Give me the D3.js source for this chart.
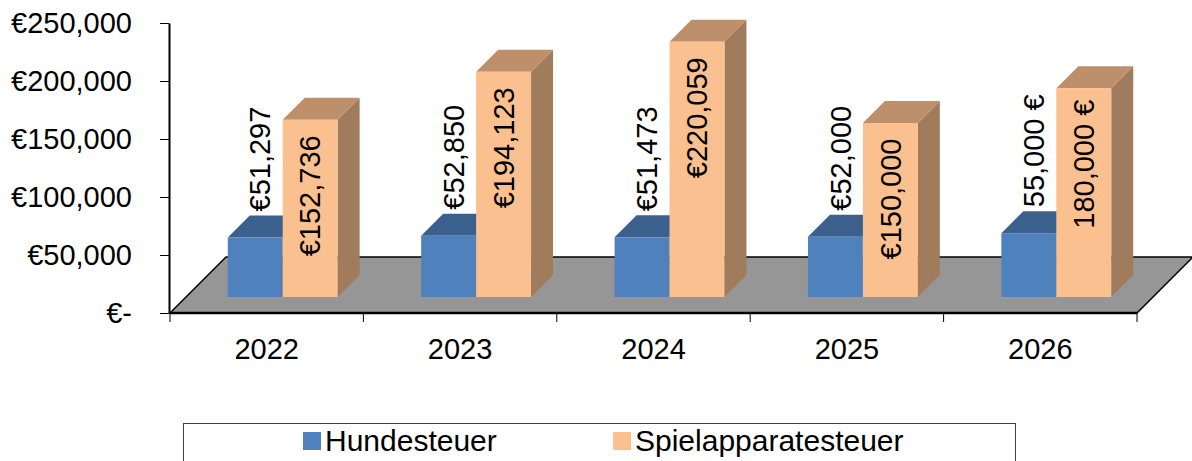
<!DOCTYPE html>
<html>
<head>
<meta charset="utf-8">
<script src="https://cdn.jsdelivr.net/npm/d3@7"></script>
<style>
  body { margin: 0; background: #fff; }
  text { font-family: "Liberation Sans", Arial, sans-serif; }
</style>
</head>
<body>
<div id="container"></div>
<script>
let years = ["2022", "2023", "2024", "2025", "2026"];
let series = ["Hundesteuer", "Spielapparatesteuer"];
let hundesteuer = [51297, 52850, 51473, 52000, 55000];
let spielapparatesteuer = [152736, 194123, 220059, 150000, 180000];
// 2026 is labelled with the euro sign after the number
let euroAfter = [false, false, false, false, true];
let yTicks = [0, 50000, 100000, 150000, 200000, 250000];

let width = 1192, height = 461;
let plot = {left: 170, right: 1137, top: 23, bottom: 313};
let floorDepth = 56, barOffset = 16, barDepth = 22;

let colors = {
    Hundesteuer: {front: "#4f81bd", top: "#3c608d", side: "#34557d"},
    Spielapparatesteuer: {front: "#fac090", top: "#be8f6b", side: "#a07b5c"}
};

let svg = d3.select("#container").append("svg")
    .attr("width", width)
    .attr("height", height);

let x = d3.scaleBand()
    .domain(years)
    .range([plot.left, plot.right]);

let x1 = d3.scaleBand()
    .domain(series)
    .range([0, x.bandwidth()])
    .paddingOuter(0.76);

let y = d3.scaleLinear()
    .domain([0, 250000])
    .range([plot.bottom, plot.top]);

let fmt = d3.format(",");
function euro(v, i) {
    return euroAfter[i] ? fmt(v) + " €" : "€" + fmt(v);
}

// floor
let floorPts = [
    [plot.left, plot.bottom],
    [plot.right, plot.bottom],
    [plot.right + floorDepth, plot.bottom - floorDepth],
    [plot.left + floorDepth, plot.bottom - floorDepth]
];
svg.append("polygon")
    .attr("points", floorPts.map(p => p.join(",")).join(" "))
    .style("fill", "#969696")
    .style("stroke", "#000")
    .style("stroke-width", 1.5);

svg.append("line")
    .attr("x1", plot.left).attr("x2", plot.right)
    .attr("y1", plot.bottom).attr("y2", plot.bottom)
    .style("stroke", "#000")
    .style("stroke-width", 2.5);

// x boundary ticks
svg.append("g").selectAll("line")
    .data(years.map(d => x(d)).concat([plot.right]))
    .enter().append("line")
    .attr("x1", d => d).attr("x2", d => d)
    .attr("y1", plot.bottom).attr("y2", plot.bottom + 9)
    .style("stroke", "#000")
    .style("stroke-width", 1);

// y axis
let yAxis = svg.append("g")
    .attr("transform", "translate(" + (plot.left - 1) + ",0)")
    .call(d3.axisLeft(y)
        .tickValues(yTicks)
        .tickSize(9)
        .tickSizeOuter(0)
        .tickPadding(28)
        .tickFormat(d => d === 0 ? "€-" : "€" + fmt(d)));
yAxis.select(".domain").style("stroke", "#000").style("stroke-width", 2);
yAxis.selectAll(".tick line").style("stroke", "#000");
yAxis.selectAll("text")
    .style("font-family", "'Liberation Sans', Arial, sans-serif")
    .style("font-size", "29px")
    .style("fill", "#000");

// x axis labels
let xAxis = svg.append("g")
    .attr("transform", "translate(0," + plot.bottom + ")")
    .call(d3.axisBottom(x).tickSize(0).tickPadding(25));
xAxis.select(".domain").remove();
xAxis.selectAll("text")
    .style("font-family", "'Liberation Sans', Arial, sans-serif")
    .style("font-size", "29px")
    .style("fill", "#000");

// bars
function drawBar(g, x0, x1b, yTop, yBase, c) {
    let d = barDepth;
    g.append("polygon")
        .attr("points", [[x1b, yTop], [x1b + d, yTop - d], [x1b + d, yBase - d], [x1b, yBase]].map(p => p.join(",")).join(" "))
        .style("fill", c.side);
    g.append("polygon")
        .attr("points", [[x0, yTop], [x1b, yTop], [x1b + d, yTop - d], [x0 + d, yTop - d]].map(p => p.join(",")).join(" "))
        .style("fill", c.top);
    g.append("rect")
        .attr("x", x0).attr("y", yTop)
        .attr("width", x1b - x0).attr("height", yBase - yTop)
        .style("fill", c.front);
}

let dataBySeries = {Hundesteuer: hundesteuer, Spielapparatesteuer: spielapparatesteuer};
let bars = svg.append("g");
years.forEach(function(yr, i) {
    series.forEach(function(s) {
        let v = dataBySeries[s][i];
        let bx = x(yr) + barOffset + x1(s);
        drawBar(bars, bx, bx + x1.bandwidth(), y(v) - barOffset, y(0) - barOffset, colors[s]);
    });
});

// value labels
let labels = svg.append("g")
    .style("font-size", "29px")
    .style("fill", "#000");

labels.selectAll(".lab-h")
    .data(hundesteuer)
    .enter().append("text")
    .attr("transform", (d, i) => "translate(" + (x(years[i]) + barOffset + x1("Hundesteuer") + x1.bandwidth() / 2 + 5) + "," + (y(d) - barOffset - barDepth - 4) + ") rotate(-90)")
    .attr("dy", "0.35em")
    .attr("text-anchor", "start")
    .text((d, i) => euro(d, i));

labels.selectAll(".lab-s")
    .data(spielapparatesteuer)
    .enter().append("text")
    .attr("transform", (d, i) => "translate(" + (x(years[i]) + barOffset + x1("Spielapparatesteuer") + x1.bandwidth() / 2) + "," + (y(d) - barOffset + 76) + ") rotate(-90)")
    .attr("dy", "0.35em")
    .attr("text-anchor", "middle")
    .text((d, i) => euro(d, i));

// legend
let legend = svg.append("g");
legend.append("rect")
    .attr("x", 183.5).attr("y", 423.5)
    .attr("width", 832).attr("height", 60)
    .style("fill", "#fff")
    .style("stroke", "#404040")
    .style("stroke-width", 1);

let legendX = [303, 613];
let item = legend.selectAll(".item")
    .data(series)
    .enter().append("g")
    .attr("transform", (d, i) => "translate(" + legendX[i] + ",0)");
item.append("rect")
    .attr("x", 0).attr("y", 432)
    .attr("width", 18).attr("height", 18)
    .style("fill", d => colors[d].front);
item.append("text")
    .attr("x", 22).attr("y", 451)
    .style("font-size", "30px")
    .style("fill", "#000")
    .text(d => d);
</script>
</body>
</html>
